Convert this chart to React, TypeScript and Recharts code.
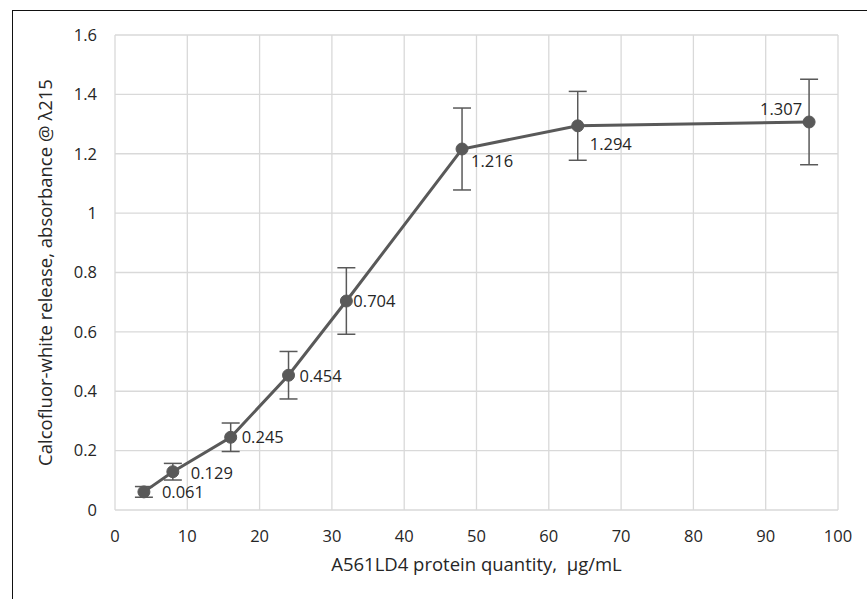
import { LineChart, Line, XAxis, YAxis, CartesianGrid, ErrorBar, LabelList } from "recharts";

const quantity = [4, 8, 16, 24, 32, 48, 64, 96];
const release = [0.061, 0.129, 0.245, 0.454, 0.704, 1.216, 1.294, 1.307];
const errors = [0.018, 0.028, 0.048, 0.08, 0.112, 0.138, 0.116, 0.144];
const xTicks = [0, 10, 20, 30, 40, 50, 60, 70, 80, 90, 100];
const yTicks = [0, 0.2, 0.4, 0.6, 0.8, 1, 1.2, 1.4, 1.6];

const FONT = "'Open Sans', 'Noto Sans', sans-serif";
const TEXT = "#262626";
const SERIES = "#595959";

const data = quantity.map((q, i) => ({ x: q, y: release[i], err: errors[i] }));

function PointLabel(props: any) {
  const { x, y, value, index } = props;
  const last = index === release.length - 1;
  // Excel nudged each label a little differently; the last one sits above-left
  const dxs = [18, 18, 11, 11, 7, 9, 12, -7];
  const dys = [6, 7, 6, 7, 6, 18, 24, -7];
  return (
    <text
      x={x + dxs[index]}
      y={y + dys[index]}
      textAnchor={last ? "end" : "start"}
      fontFamily={FONT}
      fontSize={16.5}
      fill={TEXT}
    >
      {value}
    </text>
  );
}

export default function App() {
  return (
    <div style={{ position: "absolute", left: 0, top: 0, width: 867, height: 599, overflow: "hidden", background: "#fff" }}>
      <div
        style={{
          position: "absolute",
          left: 12,
          top: 10,
          width: 900,
          height: 650,
          border: "1.5px solid #111",
        }}
      />
      <div style={{ position: "absolute", left: 0, top: 0 }}>
        <LineChart width={867} height={599} data={data} margin={{ top: 35, right: 29, bottom: 29, left: 55 }}>
          <CartesianGrid stroke="#d9d9d9" strokeWidth={1.3} />
          <XAxis
            type="number"
            dataKey="x"
            domain={[0, 100]}
            ticks={xTicks}
            axisLine={false}
            tickLine={false}
            tickSize={0}
            tickMargin={20}
            height={60}
            tick={{ fontFamily: FONT, fontSize: 16.5, fill: TEXT }}
            label={{
              value: "A561LD4 protein quantity,\u00a0 µg/mL",
              position: "insideBottom",
              offset: -1,
              style: { fontFamily: FONT, fontSize: 18.5, fill: TEXT },
            }}
          />
          <YAxis
            type="number"
            domain={[0, 1.6]}
            ticks={yTicks}
            axisLine={false}
            tickLine={false}
            tickSize={0}
            tickMargin={18}
            width={60}
            tick={{ fontFamily: FONT, fontSize: 16.5, fill: TEXT }}
            label={{
              value: "Calcofluor-white release, absorbance @ λ215",
              angle: -90,
              position: "insideLeft",
              offset: -10,
              style: { textAnchor: "middle", fontFamily: FONT, fontSize: 18.5, fill: TEXT },
            }}
          />
          <Line
            type="linear"
            dataKey="y"
            stroke={SERIES}
            strokeWidth={3}
            dot={{ r: 6, fill: SERIES, stroke: SERIES, strokeWidth: 1 }}
            activeDot={false}
            isAnimationActive={false}
          >
            <ErrorBar dataKey="err" direction="y" width={9} stroke={SERIES} strokeWidth={1.5} />
            <LabelList dataKey="y" content={<PointLabel />} />
          </Line>
        </LineChart>
      </div>
    </div>
  );
}
